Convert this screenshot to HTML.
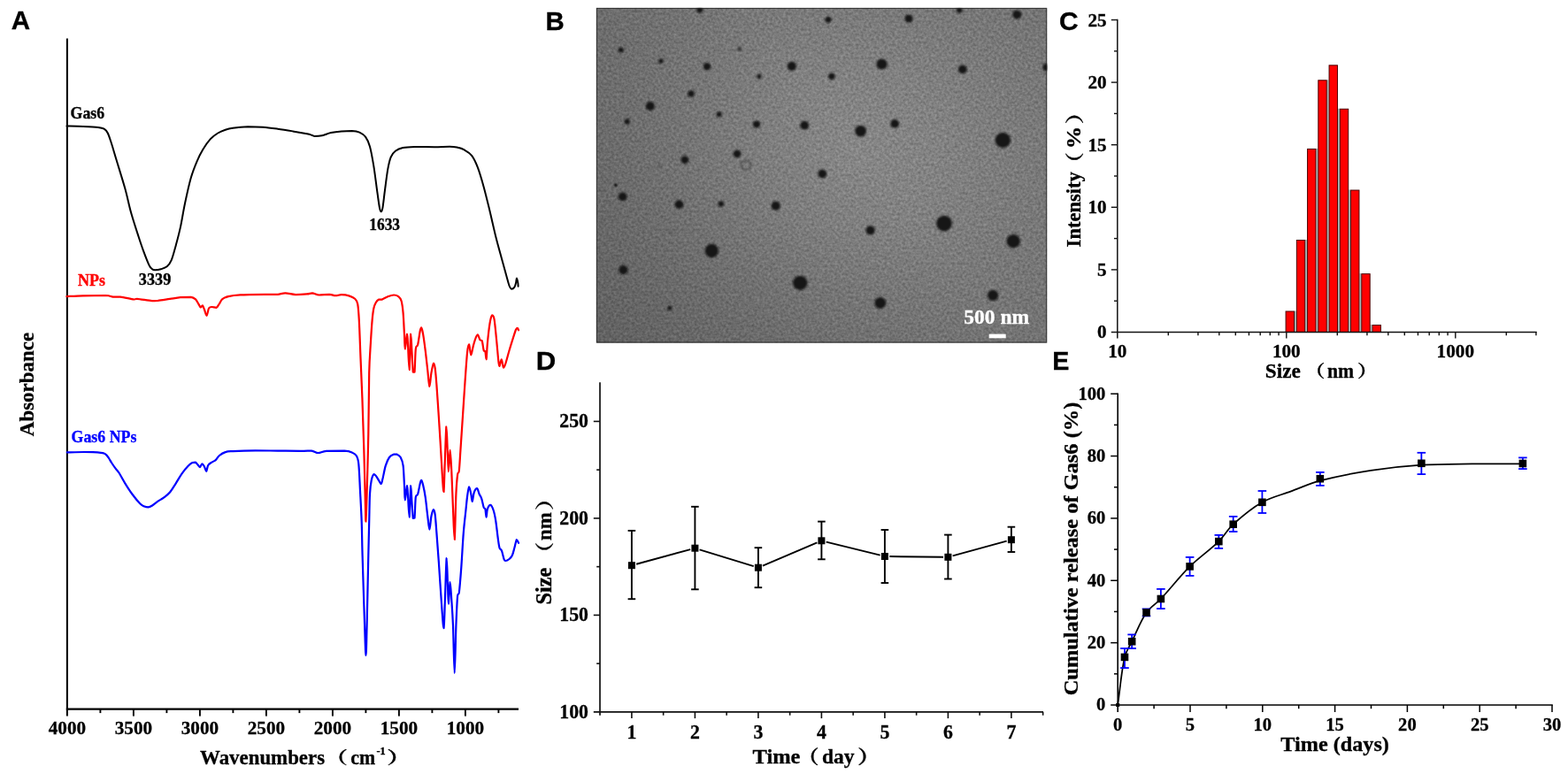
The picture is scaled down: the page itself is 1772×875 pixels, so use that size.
<!DOCTYPE html>
<html lang="en"><head><meta charset="utf-8"><title>Figure: Gas6 nanoparticle characterization</title>
<style>html,body{margin:0;padding:0;background:#fff;overflow:hidden}svg{display:block}text{white-space:pre}</style></head><body>
<svg width="1772" height="875" viewBox="0 0 1772 875">
<rect width="1772" height="875" fill="#fff"/>
<defs>
<radialGradient id="temg" cx="0" cy="0" r="1" gradientUnits="userSpaceOnUse" gradientTransform="translate(962 174) scale(400 330)">
<stop offset="0" stop-color="#878787"/>
<stop offset="0.25" stop-color="#828282"/>
<stop offset="0.5" stop-color="#7a7a7a"/>
<stop offset="0.65" stop-color="#767676"/>
<stop offset="0.8" stop-color="#737373"/>
<stop offset="1" stop-color="#717171"/>
</radialGradient>
<linearGradient id="temd" gradientUnits="userSpaceOnUse" x1="676" y1="385" x2="960" y2="150"><stop offset="0" stop-color="#000" stop-opacity="0.14"/><stop offset="1" stop-color="#000" stop-opacity="0"/></linearGradient>
<filter id="noise" x="0" y="0" width="100%" height="100%" color-interpolation-filters="sRGB">
<feTurbulence type="fractalNoise" baseFrequency="0.34" numOctaves="2" seed="7" result="t"/>
<feColorMatrix in="t" type="matrix" values="1 0 0 0 0 1 0 0 0 0 1 0 0 0 0 0 0 0 0 1" result="g"/>
<feComposite in="SourceGraphic" in2="g" operator="arithmetic" k1="0" k2="1" k3="0.25" k4="-0.125"/>
</filter>
<filter id="blur" x="0" y="0" width="1772" height="875" filterUnits="userSpaceOnUse"><feGaussianBlur stdDeviation="1.15"/></filter>
<clipPath id="temclip"><rect x="673.7" y="8.7" width="509.7" height="379"/></clipPath>
</defs>
<text transform="translate(12.76 33.3) scale(1.037 1.060)" font-family="'Liberation Sans',sans-serif" font-size="28.5" font-weight="bold" fill="#000" stroke="#000" stroke-width="0.3">A</text>
<text transform="translate(616.59 33.5) scale(1.033 1.060)" font-family="'Liberation Sans',sans-serif" font-size="28.5" font-weight="bold" fill="#000" stroke="#000" stroke-width="0.3">B</text>
<text transform="translate(1197.1 33.7) scale(1.050 1.060)" font-family="'Liberation Sans',sans-serif" font-size="28.5" font-weight="bold" fill="#000" stroke="#000" stroke-width="0.3">C</text>
<text transform="translate(605.77 417.9) scale(1.095 1.060)" font-family="'Liberation Sans',sans-serif" font-size="28.5" font-weight="bold" fill="#000" stroke="#000" stroke-width="0.3">D</text>
<text transform="translate(1189.14 417.9) scale(1.006 1.060)" font-family="'Liberation Sans',sans-serif" font-size="28.5" font-weight="bold" fill="#000" stroke="#000" stroke-width="0.3">E</text>
<g id="panelA">
<line x1="75.9" y1="43.5" x2="75.9" y2="809.6" stroke="#000" stroke-width="2.1"/>
<line x1="74.85" y1="801.6" x2="586" y2="801.6" stroke="#000" stroke-width="2.1"/>
<text transform="translate(75.9 830.3) scale(1.000 1.030)" font-family="'Liberation Serif','Noto Serif CJK SC',serif" font-size="21.2" font-weight="bold" text-anchor="middle" fill="#000" stroke="#000" stroke-width="0.3">4000</text>
<line x1="113.4" y1="801.6" x2="113.4" y2="806.1" stroke="#000" stroke-width="1.9"/>
<line x1="150.9" y1="801.6" x2="150.9" y2="809.6" stroke="#000" stroke-width="1.9"/>
<text transform="translate(150.9 830.3) scale(1.000 1.030)" font-family="'Liberation Serif','Noto Serif CJK SC',serif" font-size="21.2" font-weight="bold" text-anchor="middle" fill="#000" stroke="#000" stroke-width="0.3">3500</text>
<line x1="188.4" y1="801.6" x2="188.4" y2="806.1" stroke="#000" stroke-width="1.9"/>
<line x1="225.9" y1="801.6" x2="225.9" y2="809.6" stroke="#000" stroke-width="1.9"/>
<text transform="translate(225.9 830.3) scale(1.000 1.030)" font-family="'Liberation Serif','Noto Serif CJK SC',serif" font-size="21.2" font-weight="bold" text-anchor="middle" fill="#000" stroke="#000" stroke-width="0.3">3000</text>
<line x1="263.4" y1="801.6" x2="263.4" y2="806.1" stroke="#000" stroke-width="1.9"/>
<line x1="300.9" y1="801.6" x2="300.9" y2="809.6" stroke="#000" stroke-width="1.9"/>
<text transform="translate(300.9 830.3) scale(1.000 1.030)" font-family="'Liberation Serif','Noto Serif CJK SC',serif" font-size="21.2" font-weight="bold" text-anchor="middle" fill="#000" stroke="#000" stroke-width="0.3">2500</text>
<line x1="338.4" y1="801.6" x2="338.4" y2="806.1" stroke="#000" stroke-width="1.9"/>
<line x1="375.9" y1="801.6" x2="375.9" y2="809.6" stroke="#000" stroke-width="1.9"/>
<text transform="translate(375.9 830.3) scale(1.000 1.030)" font-family="'Liberation Serif','Noto Serif CJK SC',serif" font-size="21.2" font-weight="bold" text-anchor="middle" fill="#000" stroke="#000" stroke-width="0.3">2000</text>
<line x1="413.4" y1="801.6" x2="413.4" y2="806.1" stroke="#000" stroke-width="1.9"/>
<line x1="450.9" y1="801.6" x2="450.9" y2="809.6" stroke="#000" stroke-width="1.9"/>
<text transform="translate(450.9 830.3) scale(1.000 1.030)" font-family="'Liberation Serif','Noto Serif CJK SC',serif" font-size="21.2" font-weight="bold" text-anchor="middle" fill="#000" stroke="#000" stroke-width="0.3">1500</text>
<line x1="488.4" y1="801.6" x2="488.4" y2="806.1" stroke="#000" stroke-width="1.9"/>
<line x1="525.9" y1="801.6" x2="525.9" y2="809.6" stroke="#000" stroke-width="1.9"/>
<text transform="translate(525.9 830.3) scale(1.000 1.030)" font-family="'Liberation Serif','Noto Serif CJK SC',serif" font-size="21.2" font-weight="bold" text-anchor="middle" fill="#000" stroke="#000" stroke-width="0.3">1000</text>
<line x1="563.4" y1="801.6" x2="563.4" y2="806.1" stroke="#000" stroke-width="1.9"/>
<text transform="translate(226.07 863.8) scale(0.999 1.030)" font-family="'Liberation Serif','Noto Serif CJK SC',serif" font-size="22.9" font-weight="bold" fill="#000" stroke="#000" stroke-width="0.3">Wavenumbers</text>
<text transform="translate(366.96 864) scale(1.398 1.030)" font-family="'Liberation Serif','Noto Serif CJK SC',serif" font-size="18.6" font-weight="bold" fill="#000" stroke="#000" stroke-width="0.3">（</text>
<text transform="translate(396.35 863.8) scale(0.951 1.030)" font-family="'Liberation Serif','Noto Serif CJK SC',serif" font-size="22.9" font-weight="bold" fill="#000" stroke="#000" stroke-width="0.3">cm</text>
<text transform="translate(425.47 853.4) scale(1.067 1.030)" font-family="'Liberation Serif','Noto Serif CJK SC',serif" font-size="11.5" font-weight="bold" fill="#000" stroke="#000" stroke-width="0.3">-1</text>
<text transform="translate(436.9 864) scale(1.523 1.030)" font-family="'Liberation Serif','Noto Serif CJK SC',serif" font-size="18.6" font-weight="bold" fill="#000" stroke="#000" stroke-width="0.3">）</text>
<g transform="translate(38.1 0) rotate(-90)">
<text transform="translate(-493.13 0) scale(0.998 1.030)" font-family="'Liberation Serif','Noto Serif CJK SC',serif" font-size="23" font-weight="bold" fill="#000" stroke="#000" stroke-width="0.3">Absorbance</text>
</g>
<path d="M75.5 142.5C78.57 142.58 88.02 142.75 93.9 143C99.78 143.25 106.85 143.55 110.8 144C114.75 144.45 115.77 144.62 117.6 145.7C119.43 146.78 120.4 147.73 121.8 150.5C123.2 153.27 124.45 157.5 126 162.3C127.55 167.1 128.55 170.83 131.1 179.3C133.65 187.77 138.48 202.98 141.3 213.1C144.12 223.22 145.47 230.97 148 240C150.53 249.03 154.23 260.25 156.5 267.3C158.77 274.35 159.63 276.97 161.6 282.3C163.57 287.63 166.62 295.68 168.3 299.3C169.98 302.92 170.57 303 171.7 304C172.83 305 173.4 305.25 175.1 305.3C176.8 305.3 179.63 304.97 181.9 304.3C184.17 303.63 186.73 302.98 188.7 301.3C190.67 299.62 192.02 298.22 193.7 294.2C195.38 290.18 197.1 283.42 198.8 277.2C200.5 270.98 202.2 264.77 203.9 256.9C205.6 249.03 207.03 239.27 209 230C210.97 220.73 213.45 209.2 215.7 201.3C217.95 193.4 220.23 187.97 222.5 182.6C224.77 177.23 226.75 173.33 229.3 169.1C231.85 164.87 234.98 160.3 237.8 157.2C240.62 154.1 243.38 152.25 246.2 150.5C249.02 148.75 251.88 147.67 254.7 146.7C257.52 145.73 258.87 145.28 263.1 144.7C267.33 144.12 274.45 143.37 280.1 143.2C285.75 143.2 291.37 143.28 297 143.7C302.63 144.12 308.25 144.92 313.9 145.7C319.55 146.48 325.4 147.47 330.9 148.4C336.4 149.33 343.38 150.6 346.9 151.3C350.42 152 350.58 152.17 352 152.6C353.42 153.03 353.42 153.8 355.4 153.9C357.38 153.9 360.8 153.83 363.9 153.2C367 152.57 370.33 150.9 374 150.1C377.67 149.3 381.95 148.77 385.9 148.4C389.85 148.03 394.32 147.9 397.7 147.9C401.08 148.1 403.65 148.47 406.2 149.6C408.75 150.73 411.03 152.02 413 154.7C414.97 157.38 416.45 160.2 418 165.7C419.55 171.2 420.88 178.95 422.3 187.7C423.72 196.45 425.38 210.3 426.5 218.2C427.62 226.1 428.3 231.58 429 235.1C429.7 238.62 430.13 239.3 430.7 239.3C431.27 239.3 431.68 239.18 432.4 235.1C433.12 231.02 434.02 222.13 435 214.8C435.98 207.47 437.18 197.3 438.3 191.1C439.42 184.9 440.28 180.98 441.7 177.6C443.12 174.22 444.53 172.55 446.8 170.8C449.07 169.05 451.63 167.9 455.3 167.1C458.97 166.3 462.88 166.15 468.8 166C474.72 166 484.3 166.2 490.8 166.2C497.3 166.15 503.57 165.7 507.8 165.7C512.03 165.77 513.38 165.98 516.2 166.6C519.02 167.22 521.88 167.85 524.7 169.4C527.52 170.95 530.57 172.57 533.1 175.9C535.63 179.23 537.63 183.48 539.9 189.4C542.17 195.32 544.43 203.22 546.7 211.4C548.97 219.58 551.25 229.2 553.5 238.5C555.75 247.8 557.95 258.2 560.2 267.2C562.45 276.2 565.02 285.18 567 292.5C568.98 299.82 570.68 306.02 572.1 311.1C573.52 316.18 574.52 320.4 575.5 323C576.48 325.6 577.02 326.43 578 326.7C578.98 326.7 580.55 325.78 581.4 324.6C582.25 323.42 582.68 321.28 583.1 319.6C583.52 317.92 583.53 314.5 583.9 314.5C584.27 314.5 585.02 318.05 585.3 319.6C585.58 321.15 585.55 323.1 585.6 323.8" fill="none" stroke="#000" stroke-width="2.0" stroke-linejoin="round" stroke-linecap="round"/>
<path d="M75.5 335.1C78.57 334.97 86.6 334.48 93.9 334.3C101.2 334.12 113.67 334 119.3 334C124.93 334.22 124.92 335.33 127.7 335.6C130.48 335.6 132.05 335.6 136 335.6C139.95 336.08 148.23 338.13 151.4 338.5C154.57 338.5 151.62 337.8 155 337.8C158.38 338.08 167.78 339.85 171.7 340.2C175.62 340.2 175.12 340.2 178.5 339.9C181.88 339.52 187.77 338.52 192 337.9C196.23 337.28 199.95 336.55 203.9 336.2C207.85 335.85 212.88 335.8 215.7 335.8C218.52 336.13 219.38 336.95 220.8 338.2C222.22 339.45 223.2 341.75 224.2 343.3C225.2 344.85 226.03 347.17 226.8 347.5C227.57 347.5 228.1 345.3 228.8 345.3C229.5 345.72 230.22 348.08 231 350C231.78 351.92 232.65 356.8 233.5 356.8C234.35 356.52 235.12 349.93 236.1 348.3C237.08 347 238 347.08 239.4 347C240.8 347 243.08 347.8 244.5 347.8C245.92 347.18 246.77 344.9 247.9 343.3C249.03 341.7 249.6 339.57 251.3 338.2C253 336.83 254.72 335.9 258.1 335.1C261.48 334.3 263.7 333.78 271.6 333.4C279.5 333.02 298.43 332.9 305.5 332.8C312.57 332.8 311.18 332.8 314 332.8C316.82 332.57 319.03 331.4 322.4 331.4C325.77 331.45 330.12 332.93 334.2 333.1C338.28 333.1 343.78 332.68 346.9 332.4C350.02 332.12 350.63 331.4 352.9 331.4C355.17 331.58 357.27 333.25 360.5 333.5C363.73 333.5 369.2 332.9 372.3 332.9C375.4 333.02 376.83 334.15 379.1 334.2C381.37 334.2 383.37 333.2 385.9 333.2C388.43 333.23 391.77 333.63 394.3 334.4C396.83 335.17 399.45 336.25 401.1 337.8C402.75 339.35 403.42 339.62 404.2 343.7C404.98 347.78 405.25 352.15 405.8 362.3C406.35 372.45 406.9 389.98 407.5 404.6C408.1 419.22 408.77 432.82 409.4 450C410.03 467.18 410.7 486.8 411.3 507.7C411.9 528.6 412.65 561.75 413 575.4C413.35 589.05 413.13 589.6 413.4 589.6C413.67 586.78 414.12 574.97 414.6 558.5C415.08 542.03 415.87 513.62 416.3 490.8C416.73 467.98 416.77 438.78 417.2 421.6C417.63 404.42 418.33 397.58 418.9 387.7C419.47 377.82 420.03 368.78 420.6 362.3C421.17 355.82 421.6 352.18 422.3 348.8C423 345.42 423.82 343.7 424.8 342C425.78 340.3 427.07 339.17 428.2 338.6C429.33 338.6 429.92 338.6 431.6 338.6C433.28 338.03 436.05 336.05 438.3 335.2C440.55 334.35 443.12 333.5 445.1 333.5C447.08 333.5 448.78 334.07 450.2 335.2C451.62 336.33 452.7 337.18 453.6 340.3C454.5 343.42 455.03 347.4 455.6 353.9C456.17 360.4 456.63 372.53 457 379.3C457.37 386.07 457.3 394.5 457.8 394.5C458.3 394.22 459.48 378.73 460 377.6C460.52 377.6 460.47 380.93 460.9 387.7C461.33 394.47 462.05 418.2 462.6 418.2C463.15 416.52 463.73 381.27 464.2 377.6C464.67 377.6 464.97 389.02 465.4 396.2C465.83 403.38 466.28 416.62 466.8 420.7C467.32 420.7 468 420.7 468.5 420.7C469 416.33 469.18 399.72 469.8 394.5C470.42 389.4 471.38 392.78 472.2 389.4C473.02 386.02 474.05 377.37 474.7 374.2C475.35 371.03 475.53 370.4 476.1 370.4C476.67 370.97 477.33 373.3 478.1 377.6C478.87 381.9 479.85 389.43 480.7 396.2C481.55 402.97 482.42 411.43 483.2 418.2C483.98 424.97 484.7 436.23 485.4 436.8C486.1 436.8 486.63 425.97 487.4 421.6C488.17 417.23 489.28 411.45 490 410.6C490.72 410.6 491.13 412.42 491.7 416.5C492.27 420.58 492.77 426.85 493.4 435.1C494.03 443.35 494.8 455.3 495.5 466C496.2 476.7 496.83 486.7 497.6 499.3C498.37 511.9 499.45 532.15 500.1 541.6C500.75 551.05 501.07 556 501.5 556C501.93 553.17 502.22 536.88 502.7 524.6C503.18 512.32 503.9 485.12 504.4 482.3C504.9 482.3 505.28 499.23 505.7 507.7C506.12 516.17 506.42 532.95 506.9 533.1C507.38 533.1 508.03 508.6 508.6 508.6C509.17 508.6 509.73 521.97 510.3 533.1C510.87 544.23 511.43 562.58 512 575.4C512.57 588.22 513.13 610 513.7 610C514.27 607.18 514.83 570.75 515.4 558.5C515.97 546.25 516.53 540.87 517.1 536.5C517.67 532.3 518.23 536.5 518.8 532.3C519.37 527.5 519.8 518.08 520.5 507.7C521.2 497.32 522.17 482.62 523 470C523.83 457.38 524.65 444.02 525.5 432C526.35 419.98 527.33 405 528.1 397.9C528.87 390.8 529.4 389.4 530.1 389.4C530.8 389.97 531.52 401.02 532.3 401.3C533.08 401.3 533.95 394.22 534.8 391.1C535.65 387.98 536.55 384.72 537.4 382.6C538.25 380.48 539.05 378.4 539.9 378.4C540.75 378.68 541.7 383.17 542.5 384.3C543.3 385.2 544 384.3 544.7 385.2C545.4 387.18 546.08 394.15 546.7 396.2C547.32 397.5 547.92 396.2 548.4 397.5C548.88 399.18 549.18 406.3 549.6 406.3C550.02 404.67 550.25 394.47 550.9 387.7C551.55 380.93 552.65 370.92 553.5 365.7C554.35 360.48 555.17 357.25 556 356.4C556.83 356.4 557.65 356.4 558.5 360.6C559.35 365.25 560.3 376.4 561.1 384.3C561.9 392.2 562.73 403.05 563.3 408C563.87 412.95 563.93 414 564.5 414C565.07 413.72 565.95 406.3 566.7 406.3C567.45 406.57 568.25 414.75 569 415.6C569.75 415.6 570.12 414.63 571.2 411.4C572.28 408.17 574.08 401 575.5 396.2C576.92 391.4 578.43 386.55 579.7 382.6C580.97 378.65 582.25 374.47 583.1 372.5C583.95 370.8 584.32 370.8 584.8 370.8C585.28 370.93 585.8 372.88 586 373.3" fill="none" stroke="#f00" stroke-width="2.2" stroke-linejoin="round" stroke-linecap="round"/>
<path d="M75.9 511.4C79.08 511.33 90.15 511.03 95 511C99.85 511 101.83 511.07 105 511.2C108.17 511.33 111.92 511.57 114 511.8C116.08 512.03 116.42 512.13 117.5 512.6C118.58 513.07 119.58 513.7 120.5 514.6C121.42 515.5 122.08 516.6 123 518C123.92 519.4 124.73 521.05 126 523C127.27 524.95 129.18 527.78 130.6 529.7C132.02 531.62 132.72 531.73 134.5 534.5C136.28 537.27 138.77 542.22 141.3 546.3C143.83 550.38 146.88 555.18 149.7 559C152.52 562.82 155.93 566.93 158.2 569.2C160.47 571.47 161.75 571.9 163.3 572.6C164.85 573.3 166.1 573.4 167.5 573.4C168.9 573.25 169.87 572.82 171.7 571.7C173.53 570.58 176.23 568.25 178.5 566.7C180.77 565.15 183.05 564.1 185.3 562.4C187.55 560.7 189.75 559.18 192 556.5C194.25 553.82 196.53 549.83 198.8 546.3C201.07 542.77 203.33 538.53 205.6 535.3C207.87 532.07 210.43 528.95 212.4 526.9C214.37 524.85 216 523.72 217.4 523C218.8 522.6 219.8 522.6 220.8 522.6C221.8 522.97 222.55 524.28 223.4 525.2C224.25 526.12 225.07 528.1 225.9 528.1C226.73 527.95 227.55 524.37 228.4 524.3C229.25 524.3 230.2 526.28 231 527.7C231.8 529.12 232.5 532.8 233.2 532.8C233.9 532.52 234.17 527.7 235.2 526C236.23 524.3 237.98 523.58 239.4 522.6C240.82 521.62 242.28 521.37 243.7 520.1C245.12 518.83 246.07 516.5 247.9 515C249.73 513.5 252.17 511.92 254.7 511.1C257.23 510.28 257.47 510.4 263.1 510.1C268.73 509.8 280.03 509.38 288.5 509.3C296.97 509.3 305.43 509.5 313.9 509.6C322.37 509.7 332.95 509.9 339.3 509.9C345.65 509.9 348.62 509.6 352 509.6C355.38 509.95 356.78 511.95 359.6 512C362.42 512 363.95 510.28 368.9 509.9C373.85 509.7 384.5 509.7 389.3 509.7C394.1 509.95 395.45 510.47 397.7 511.4C399.95 512.33 401.53 513.1 402.8 515.3C404.07 517.5 404.6 517.98 405.3 524.6C406 531.22 406.43 544.1 407 555C407.57 565.9 408.27 577.88 408.7 590C409.13 602.12 409.03 608.15 409.6 627.7C410.17 647.25 411.45 688.42 412.1 707.3C412.75 726.18 413.08 741 413.5 741C413.92 741 414.13 726.18 414.6 707.3C415.07 688.42 415.87 647.25 416.3 627.7C416.73 608.15 416.92 601.53 417.2 590C417.48 578.47 417.58 566.28 418 558.5C418.42 550.72 418.98 547.02 419.7 543.3C420.42 539.58 421.45 537.1 422.3 536.2C423.15 536.2 423.82 536.72 424.8 537.9C425.78 539.08 427.22 541.78 428.2 543.3C429.18 544.82 430 547 430.7 547C431.4 546.72 431.55 545.05 432.4 541.6C433.25 538.15 434.53 530.4 435.8 526.3C437.07 522.2 438.45 519.12 440 517C441.55 514.88 443.68 514.17 445.1 513.6C446.52 513.6 447.23 513.6 448.5 513.6C449.77 514.17 451.52 514.88 452.7 517C453.88 519.12 454.88 520.8 455.6 526.3C456.32 531.8 456.63 543.5 457 550C457.37 556.5 457.3 565.3 457.8 565.3C458.3 565.17 459.48 550.33 460 549.2C460.52 549.2 460.47 552.58 460.9 558.5C461.33 564.42 462.05 584.7 462.6 584.7C463.15 583.15 463.73 552.15 464.2 549.2C464.67 549.2 464.97 560.88 465.4 567C465.83 573.12 466.28 582.8 466.8 585.9C467.32 585.9 468 585.9 468.5 585.6C469 581.6 469.18 566.42 469.8 561.9C470.42 558.5 471.38 561.03 472.2 558.5C473.02 555.97 474.05 549.32 474.7 546.7C475.35 544.08 475.53 542.8 476.1 542.8C476.67 543.07 477.33 545.12 478.1 548.3C478.87 551.48 479.85 556.12 480.7 561.9C481.55 567.68 482.42 576.88 483.2 583C483.98 589.12 484.7 598.48 485.4 598.6C486.1 598.6 486.63 587.45 487.4 583.7C488.17 579.95 489.28 576.38 490 576.1C490.72 576.1 491.13 577.63 491.7 582C492.27 586.37 492.7 593.27 493.4 602.3C494.1 611.33 494.92 622.08 495.9 636.2C496.88 650.32 498.37 674.68 499.3 687C500.23 699.32 500.88 710.1 501.5 710.1C502.12 708.1 502.47 688.17 503 675C503.53 661.83 504.2 633.33 504.7 631.1C505.2 631.1 505.63 653 506 661.6C506.37 670.2 506.47 682.7 506.9 682.7C507.33 682.13 508.03 658.9 508.6 658.2C509.17 658.2 509.73 670.32 510.3 678.5C510.87 686.68 511.43 693.55 512 707.3C512.57 721.05 513.13 761 513.7 761C514.27 761 514.83 721.9 515.4 707.3C515.97 692.7 516.53 679.62 517.1 673.4C517.67 670 518.1 673.4 518.8 670C519.5 664.65 520.47 652.58 521.3 641.3C522.13 630.02 522.95 613.02 523.8 602.3C524.65 591.58 525.68 583.88 526.4 577C527.12 570.12 527.48 565.43 528.1 561C528.72 556.57 529.4 550.82 530.1 550.4C530.8 550.4 531.7 555.73 532.3 558.5C532.9 561.27 533.13 567 533.7 567C534.27 566.72 534.8 559.28 535.7 556.8C536.6 554.32 538.12 552.1 539.1 552.1C540.08 552.38 540.75 556.58 541.6 558.5C542.45 560.42 543.35 561.07 544.2 563.6C545.05 566.13 546 571.73 546.7 573.7C547.4 575.4 547.92 573.7 548.4 575.4C548.88 577.23 549.18 584.7 549.6 584.7C550.02 584.7 550.12 577.72 550.9 575.4C551.68 573.08 553.17 570.8 554.3 570.8C555.43 571.07 556.72 574.05 557.7 577C558.68 579.95 559.35 583.15 560.2 588.5C561.05 593.85 562.08 603.97 562.8 609.1C563.52 614.23 563.8 617.05 564.5 619.3C565.2 621.55 566.17 620.48 567 622.6C567.83 624.72 568.8 630.1 569.5 632C570.2 633.9 570.2 634 571.2 634C572.2 634 574.22 633.05 575.5 632C576.78 630.95 577.92 629.82 578.9 627.7C579.88 625.58 580.57 622.25 581.4 619.3C582.23 616.35 583.13 610.92 583.9 610C584.67 610 585.65 613.17 586 613.8" fill="none" stroke="#00f" stroke-width="2.2" stroke-linejoin="round" stroke-linecap="round"/>
<text transform="translate(79.6 133.7) scale(1.047 1.120)" font-family="'Liberation Serif','Noto Serif CJK SC',serif" font-size="17" font-weight="bold" fill="#000" stroke="#000" stroke-width="0.3">Gas6</text>
<text transform="translate(88.03 322.6) scale(1.058 1.120)" font-family="'Liberation Serif','Noto Serif CJK SC',serif" font-size="17" font-weight="bold" fill="#f00" stroke="#f00" stroke-width="0.3">NPs</text>
<text transform="translate(80.5 499.5) scale(1.051 1.120)" font-family="'Liberation Serif','Noto Serif CJK SC',serif" font-size="17" font-weight="bold" fill="#00f" stroke="#00f" stroke-width="0.3">Gas6 NPs</text>
<text transform="translate(156.86 322.3) scale(1.073 1.120)" font-family="'Liberation Serif','Noto Serif CJK SC',serif" font-size="17" font-weight="bold" fill="#000" stroke="#000" stroke-width="0.3">3339</text>
<text transform="translate(417.2 259.6) scale(1.027 1.120)" font-family="'Liberation Serif','Noto Serif CJK SC',serif" font-size="17" font-weight="bold" fill="#000" stroke="#000" stroke-width="0.3">1633</text>
</g>
<g id="panelB">
<g clip-path="url(#temclip)">
<rect x="673.7" y="8.7" width="509.7" height="379" fill="url(#temg)" filter="url(#noise)"/>
<rect x="673.7" y="8.7" width="509.7" height="379" fill="url(#temd)"/>
<g filter="url(#blur)">
<ellipse cx="790.8" cy="11.2" rx="3.47" ry="3.47" fill="#141414"/>
<ellipse cx="701.8" cy="56.5" rx="3.06" ry="3.06" fill="#141414"/>
<ellipse cx="746.9" cy="69" rx="2.75" ry="2.75" fill="#141414"/>
<ellipse cx="835.6" cy="55.3" rx="2.55" ry="2.55" fill="#3a3a3a"/>
<ellipse cx="799" cy="75.2" rx="4.08" ry="4.08" fill="#141414"/>
<ellipse cx="858" cy="86.4" rx="2.55" ry="2.55" fill="#141414"/>
<ellipse cx="894.8" cy="74.8" rx="5.1" ry="5.1" fill="#141414"/>
<ellipse cx="781" cy="106" rx="3.77" ry="3.77" fill="#141414"/>
<ellipse cx="734.8" cy="120" rx="5.1" ry="5.1" fill="#141414"/>
<ellipse cx="708.7" cy="137.4" rx="3.06" ry="3.06" fill="#141414"/>
<ellipse cx="812.7" cy="129.2" rx="3.06" ry="3.06" fill="#141414"/>
<ellipse cx="855" cy="140.6" rx="4.08" ry="4.08" fill="#141414"/>
<ellipse cx="909.2" cy="141.7" rx="4.9" ry="4.9" fill="#141414"/>
<ellipse cx="833" cy="173.8" rx="4.39" ry="4.39" fill="#141414"/>
<ellipse cx="773.9" cy="180.6" rx="4.39" ry="4.39" fill="#141414"/>
<ellipse cx="745" cy="187.5" rx="1.43" ry="1.43" fill="#444"/>
<ellipse cx="936" cy="22.2" rx="3.57" ry="3.57" fill="#141414"/>
<ellipse cx="1027" cy="21" rx="4.59" ry="4.59" fill="#141414"/>
<ellipse cx="1084.2" cy="11.4" rx="3.26" ry="3.26" fill="#141414"/>
<ellipse cx="1149.3" cy="16.5" rx="5.1" ry="5.1" fill="#141414"/>
<ellipse cx="996.6" cy="72.5" rx="6.12" ry="6.12" fill="#141414"/>
<ellipse cx="939.9" cy="86.2" rx="3.77" ry="3.77" fill="#141414"/>
<ellipse cx="1087.8" cy="78.4" rx="4.9" ry="4.9" fill="#141414"/>
<ellipse cx="1182.3" cy="76.1" rx="4.08" ry="4.08" fill="#141414"/>
<ellipse cx="1011.2" cy="139.9" rx="4.9" ry="4.9" fill="#141414"/>
<ellipse cx="972.6" cy="148.1" rx="6.43" ry="6.43" fill="#141414"/>
<ellipse cx="1133.3" cy="158.4" rx="8.67" ry="8.67" fill="#141414"/>
<ellipse cx="929.3" cy="196.5" rx="4.9" ry="4.9" fill="#141414"/>
<ellipse cx="695.9" cy="209.2" rx="1.53" ry="1.53" fill="#141414"/>
<ellipse cx="703.7" cy="222.4" rx="4.9" ry="4.9" fill="#141414"/>
<ellipse cx="767.5" cy="231.1" rx="4.9" ry="4.9" fill="#141414"/>
<ellipse cx="814.8" cy="230.4" rx="3.26" ry="3.26" fill="#141414"/>
<ellipse cx="876.7" cy="232.7" rx="5.1" ry="5.1" fill="#141414"/>
<ellipse cx="757.6" cy="263.6" rx="1.43" ry="1.43" fill="#444"/>
<ellipse cx="804.3" cy="283.5" rx="7.65" ry="7.65" fill="#141414"/>
<ellipse cx="704.4" cy="305.2" rx="5.1" ry="5.1" fill="#141414"/>
<ellipse cx="904.2" cy="319.8" rx="8.16" ry="8.16" fill="#141414"/>
<ellipse cx="756.7" cy="348.2" rx="2.55" ry="2.55" fill="#141414"/>
<ellipse cx="983.6" cy="260.4" rx="5.1" ry="5.1" fill="#141414"/>
<ellipse cx="1067" cy="252.6" rx="8.87" ry="8.87" fill="#141414"/>
<ellipse cx="1145.2" cy="272.7" rx="7.65" ry="7.65" fill="#141414"/>
<ellipse cx="994.8" cy="342.5" rx="6.43" ry="6.43" fill="#141414"/>
<ellipse cx="1122.1" cy="333.8" rx="6.12" ry="6.12" fill="#141414"/>
<circle cx="842.9" cy="186.3" r="5.5" fill="none" stroke="#383838" stroke-width="1.2"/>
<circle cx="695.9" cy="209.2" r="1.6" fill="#000"/>
</g>
<rect x="674.35" y="9.35" width="508.4" height="377.7" fill="none" stroke="#222" stroke-width="1.3" opacity="0.75"/>
</g>
<text transform="translate(1089.36 366.3) scale(1.119 1.130)" font-family="'Liberation Serif','Noto Serif CJK SC',serif" font-size="21" font-weight="bold" fill="#fff" stroke="#fff" stroke-width="0.3">500 nm</text>
<rect x="1117.7" y="377.6" width="19" height="4.7" fill="#fff"/>
</g>
<g id="panelC">
<rect x="1463" y="351.5" width="1.84" height="24" fill="#a3b7b7"/>
<rect x="1475.24" y="271.01" width="1.84" height="104.49" fill="#a3b7b7"/>
<rect x="1487.48" y="167.94" width="1.84" height="207.56" fill="#a3b7b7"/>
<rect x="1499.72" y="90.28" width="1.84" height="285.22" fill="#a3b7b7"/>
<rect x="1511.96" y="122.75" width="1.84" height="252.75" fill="#a3b7b7"/>
<rect x="1524.2" y="214.53" width="1.84" height="160.97" fill="#a3b7b7"/>
<rect x="1536.44" y="309.14" width="1.84" height="66.36" fill="#a3b7b7"/>
<rect x="1548.68" y="367.03" width="1.84" height="8.47" fill="#a3b7b7"/>
<rect x="1453.1" y="352" width="9.4" height="23.5" fill="#ff0000" stroke="#4a0000" stroke-width="1.0"/>
<rect x="1465.34" y="271.51" width="9.4" height="103.99" fill="#ff0000" stroke="#4a0000" stroke-width="1.0"/>
<rect x="1477.58" y="168.44" width="9.4" height="207.06" fill="#ff0000" stroke="#4a0000" stroke-width="1.0"/>
<rect x="1489.82" y="90.78" width="9.4" height="284.72" fill="#ff0000" stroke="#4a0000" stroke-width="1.0"/>
<rect x="1502.06" y="73.83" width="9.4" height="301.67" fill="#ff0000" stroke="#4a0000" stroke-width="1.0"/>
<rect x="1514.3" y="123.25" width="9.4" height="252.25" fill="#ff0000" stroke="#4a0000" stroke-width="1.0"/>
<rect x="1526.54" y="215.03" width="9.4" height="160.47" fill="#ff0000" stroke="#4a0000" stroke-width="1.0"/>
<rect x="1538.78" y="309.64" width="9.4" height="65.86" fill="#ff0000" stroke="#4a0000" stroke-width="1.0"/>
<rect x="1551.02" y="367.53" width="9.4" height="7.97" fill="#ff0000" stroke="#4a0000" stroke-width="1.0"/>
<line x1="1262.8" y1="21.75" x2="1262.8" y2="382.5" stroke="#111" stroke-width="1.5"/>
<line x1="1255.8" y1="375.5" x2="1736.68" y2="375.5" stroke="#111" stroke-width="1.5"/>
<text transform="translate(1250.6 382.4) scale(1.000 1.030)" font-family="'Liberation Serif','Noto Serif CJK SC',serif" font-size="21.2" font-weight="bold" text-anchor="end" fill="#000" stroke="#000" stroke-width="0.3">0</text>
<line x1="1259" y1="340.2" x2="1262.8" y2="340.2" stroke="#111" stroke-width="1.4"/>
<line x1="1255.8" y1="304.9" x2="1262.8" y2="304.9" stroke="#111" stroke-width="1.4"/>
<text transform="translate(1250.6 311.8) scale(1.000 1.030)" font-family="'Liberation Serif','Noto Serif CJK SC',serif" font-size="21.2" font-weight="bold" text-anchor="end" fill="#000" stroke="#000" stroke-width="0.3">5</text>
<line x1="1259" y1="269.6" x2="1262.8" y2="269.6" stroke="#111" stroke-width="1.4"/>
<line x1="1255.8" y1="234.3" x2="1262.8" y2="234.3" stroke="#111" stroke-width="1.4"/>
<text transform="translate(1250.6 241.2) scale(1.000 1.030)" font-family="'Liberation Serif','Noto Serif CJK SC',serif" font-size="21.2" font-weight="bold" text-anchor="end" fill="#000" stroke="#000" stroke-width="0.3">10</text>
<line x1="1259" y1="199" x2="1262.8" y2="199" stroke="#111" stroke-width="1.4"/>
<line x1="1255.8" y1="163.7" x2="1262.8" y2="163.7" stroke="#111" stroke-width="1.4"/>
<text transform="translate(1250.6 170.6) scale(1.000 1.030)" font-family="'Liberation Serif','Noto Serif CJK SC',serif" font-size="21.2" font-weight="bold" text-anchor="end" fill="#000" stroke="#000" stroke-width="0.3">15</text>
<line x1="1259" y1="128.4" x2="1262.8" y2="128.4" stroke="#111" stroke-width="1.4"/>
<line x1="1255.8" y1="93.1" x2="1262.8" y2="93.1" stroke="#111" stroke-width="1.4"/>
<text transform="translate(1250.6 100) scale(1.000 1.030)" font-family="'Liberation Serif','Noto Serif CJK SC',serif" font-size="21.2" font-weight="bold" text-anchor="end" fill="#000" stroke="#000" stroke-width="0.3">20</text>
<line x1="1259" y1="57.8" x2="1262.8" y2="57.8" stroke="#111" stroke-width="1.4"/>
<line x1="1255.8" y1="22.5" x2="1262.8" y2="22.5" stroke="#111" stroke-width="1.4"/>
<text transform="translate(1250.6 29.9) scale(1.000 1.030)" font-family="'Liberation Serif','Noto Serif CJK SC',serif" font-size="21.2" font-weight="bold" text-anchor="end" fill="#000" stroke="#000" stroke-width="0.3">25</text>
<line x1="1320.3" y1="375.5" x2="1320.3" y2="379.3" stroke="#111" stroke-width="1.4"/>
<line x1="1353.93" y1="375.5" x2="1353.93" y2="379.3" stroke="#111" stroke-width="1.4"/>
<line x1="1377.79" y1="375.5" x2="1377.79" y2="379.3" stroke="#111" stroke-width="1.4"/>
<line x1="1396.3" y1="375.5" x2="1396.3" y2="379.3" stroke="#111" stroke-width="1.4"/>
<line x1="1411.43" y1="375.5" x2="1411.43" y2="379.3" stroke="#111" stroke-width="1.4"/>
<line x1="1424.21" y1="375.5" x2="1424.21" y2="379.3" stroke="#111" stroke-width="1.4"/>
<line x1="1435.29" y1="375.5" x2="1435.29" y2="379.3" stroke="#111" stroke-width="1.4"/>
<line x1="1445.06" y1="375.5" x2="1445.06" y2="379.3" stroke="#111" stroke-width="1.4"/>
<line x1="1453.8" y1="375.5" x2="1453.8" y2="382.5" stroke="#111" stroke-width="1.4"/>
<line x1="1511.3" y1="375.5" x2="1511.3" y2="379.3" stroke="#111" stroke-width="1.4"/>
<line x1="1544.93" y1="375.5" x2="1544.93" y2="379.3" stroke="#111" stroke-width="1.4"/>
<line x1="1568.79" y1="375.5" x2="1568.79" y2="379.3" stroke="#111" stroke-width="1.4"/>
<line x1="1587.3" y1="375.5" x2="1587.3" y2="379.3" stroke="#111" stroke-width="1.4"/>
<line x1="1602.43" y1="375.5" x2="1602.43" y2="379.3" stroke="#111" stroke-width="1.4"/>
<line x1="1615.21" y1="375.5" x2="1615.21" y2="379.3" stroke="#111" stroke-width="1.4"/>
<line x1="1626.29" y1="375.5" x2="1626.29" y2="379.3" stroke="#111" stroke-width="1.4"/>
<line x1="1636.06" y1="375.5" x2="1636.06" y2="379.3" stroke="#111" stroke-width="1.4"/>
<line x1="1644.8" y1="375.5" x2="1644.8" y2="382.5" stroke="#111" stroke-width="1.4"/>
<line x1="1702.3" y1="375.5" x2="1702.3" y2="379.3" stroke="#111" stroke-width="1.4"/>
<line x1="1735.93" y1="375.5" x2="1735.93" y2="379.3" stroke="#111" stroke-width="1.4"/>
<text transform="translate(1262.8 403.8) scale(1.000 1.030)" font-family="'Liberation Serif','Noto Serif CJK SC',serif" font-size="21.2" font-weight="bold" text-anchor="middle" fill="#000" stroke="#000" stroke-width="0.3">10</text>
<text transform="translate(1453.8 403.8) scale(1.000 1.030)" font-family="'Liberation Serif','Noto Serif CJK SC',serif" font-size="21.2" font-weight="bold" text-anchor="middle" fill="#000" stroke="#000" stroke-width="0.3">100</text>
<text transform="translate(1644.8 403.8) scale(1.000 1.030)" font-family="'Liberation Serif','Noto Serif CJK SC',serif" font-size="21.2" font-weight="bold" text-anchor="middle" fill="#000" stroke="#000" stroke-width="0.3">1000</text>
<text transform="translate(1429.84 426.7) scale(1.012 1.030)" font-family="'Liberation Serif','Noto Serif CJK SC',serif" font-size="23" font-weight="bold" fill="#000" stroke="#000" stroke-width="0.3">Size</text>
<text transform="translate(1474.91 426.9) scale(1.214 1.030)" font-family="'Liberation Serif','Noto Serif CJK SC',serif" font-size="18.4" font-weight="bold" fill="#000" stroke="#000" stroke-width="0.3">（</text>
<text transform="translate(1499.96 426.7) scale(0.944 1.030)" font-family="'Liberation Serif','Noto Serif CJK SC',serif" font-size="23" font-weight="bold" fill="#000" stroke="#000" stroke-width="0.3">nm</text>
<text transform="translate(1534.04 426.9) scale(1.232 1.030)" font-family="'Liberation Serif','Noto Serif CJK SC',serif" font-size="18.4" font-weight="bold" fill="#000" stroke="#000" stroke-width="0.3">）</text>
<g transform="translate(1221.4 0) rotate(-90)">
<text transform="translate(-279.38 0) scale(0.993 1.030)" font-family="'Liberation Serif','Noto Serif CJK SC',serif" font-size="22.7" font-weight="bold" fill="#000" stroke="#000" stroke-width="0.3">Intensity</text>
<text transform="translate(-196.36 0.45) scale(1.182 1.030)" font-family="'Liberation Serif','Noto Serif CJK SC',serif" font-size="20.3" font-weight="bold" fill="#000" stroke="#000" stroke-width="0.3">（</text>
<text transform="translate(-168.14 0) scale(1.120 1.030)" font-family="'Liberation Serif','Noto Serif CJK SC',serif" font-size="22.7" font-weight="bold" fill="#000" stroke="#000" stroke-width="0.3">%</text>
<text transform="translate(-140.44 0.45) scale(1.346 1.030)" font-family="'Liberation Serif','Noto Serif CJK SC',serif" font-size="20.3" font-weight="bold" fill="#000" stroke="#000" stroke-width="0.3">）</text>
</g>
</g>
<g id="panelD">
<line x1="678" y1="432.3" x2="678" y2="808.7" stroke="#111" stroke-width="1.7"/>
<line x1="670.8" y1="804.9" x2="1179" y2="804.9" stroke="#111" stroke-width="1.7"/>
<text transform="translate(665 811.8) scale(1.000 1.030)" font-family="'Liberation Serif','Noto Serif CJK SC',serif" font-size="21.8" font-weight="bold" text-anchor="end" fill="#000" stroke="#000" stroke-width="0.3">100</text>
<line x1="674.2" y1="750.15" x2="678" y2="750.15" stroke="#111" stroke-width="1.6"/>
<line x1="670.8" y1="695.4" x2="678" y2="695.4" stroke="#111" stroke-width="1.6"/>
<text transform="translate(665 702.3) scale(1.000 1.030)" font-family="'Liberation Serif','Noto Serif CJK SC',serif" font-size="21.8" font-weight="bold" text-anchor="end" fill="#000" stroke="#000" stroke-width="0.3">150</text>
<line x1="674.2" y1="640.65" x2="678" y2="640.65" stroke="#111" stroke-width="1.6"/>
<line x1="670.8" y1="585.9" x2="678" y2="585.9" stroke="#111" stroke-width="1.6"/>
<text transform="translate(665 592.8) scale(1.000 1.030)" font-family="'Liberation Serif','Noto Serif CJK SC',serif" font-size="21.8" font-weight="bold" text-anchor="end" fill="#000" stroke="#000" stroke-width="0.3">200</text>
<line x1="674.2" y1="531.15" x2="678" y2="531.15" stroke="#111" stroke-width="1.6"/>
<line x1="670.8" y1="476.4" x2="678" y2="476.4" stroke="#111" stroke-width="1.6"/>
<text transform="translate(665 483.3) scale(1.000 1.030)" font-family="'Liberation Serif','Noto Serif CJK SC',serif" font-size="21.8" font-weight="bold" text-anchor="end" fill="#000" stroke="#000" stroke-width="0.3">250</text>
<line x1="713.9" y1="804.9" x2="713.9" y2="812.1" stroke="#111" stroke-width="1.6"/>
<text transform="translate(713.9 834.8) scale(1.000 1.030)" font-family="'Liberation Serif','Noto Serif CJK SC',serif" font-size="21.8" font-weight="bold" text-anchor="middle" fill="#000" stroke="#000" stroke-width="0.3">1</text>
<line x1="749.65" y1="804.9" x2="749.65" y2="808.7" stroke="#111" stroke-width="1.6"/>
<line x1="785.4" y1="804.9" x2="785.4" y2="812.1" stroke="#111" stroke-width="1.6"/>
<text transform="translate(785.4 834.8) scale(1.000 1.030)" font-family="'Liberation Serif','Noto Serif CJK SC',serif" font-size="21.8" font-weight="bold" text-anchor="middle" fill="#000" stroke="#000" stroke-width="0.3">2</text>
<line x1="821.15" y1="804.9" x2="821.15" y2="808.7" stroke="#111" stroke-width="1.6"/>
<line x1="856.9" y1="804.9" x2="856.9" y2="812.1" stroke="#111" stroke-width="1.6"/>
<text transform="translate(856.9 834.8) scale(1.000 1.030)" font-family="'Liberation Serif','Noto Serif CJK SC',serif" font-size="21.8" font-weight="bold" text-anchor="middle" fill="#000" stroke="#000" stroke-width="0.3">3</text>
<line x1="892.65" y1="804.9" x2="892.65" y2="808.7" stroke="#111" stroke-width="1.6"/>
<line x1="928.4" y1="804.9" x2="928.4" y2="812.1" stroke="#111" stroke-width="1.6"/>
<text transform="translate(928.4 834.8) scale(1.000 1.030)" font-family="'Liberation Serif','Noto Serif CJK SC',serif" font-size="21.8" font-weight="bold" text-anchor="middle" fill="#000" stroke="#000" stroke-width="0.3">4</text>
<line x1="964.15" y1="804.9" x2="964.15" y2="808.7" stroke="#111" stroke-width="1.6"/>
<line x1="999.9" y1="804.9" x2="999.9" y2="812.1" stroke="#111" stroke-width="1.6"/>
<text transform="translate(999.9 834.8) scale(1.000 1.030)" font-family="'Liberation Serif','Noto Serif CJK SC',serif" font-size="21.8" font-weight="bold" text-anchor="middle" fill="#000" stroke="#000" stroke-width="0.3">5</text>
<line x1="1035.65" y1="804.9" x2="1035.65" y2="808.7" stroke="#111" stroke-width="1.6"/>
<line x1="1071.4" y1="804.9" x2="1071.4" y2="812.1" stroke="#111" stroke-width="1.6"/>
<text transform="translate(1071.4 834.8) scale(1.000 1.030)" font-family="'Liberation Serif','Noto Serif CJK SC',serif" font-size="21.8" font-weight="bold" text-anchor="middle" fill="#000" stroke="#000" stroke-width="0.3">6</text>
<line x1="1107.15" y1="804.9" x2="1107.15" y2="808.7" stroke="#111" stroke-width="1.6"/>
<line x1="1142.9" y1="804.9" x2="1142.9" y2="812.1" stroke="#111" stroke-width="1.6"/>
<text transform="translate(1142.9 834.8) scale(1.000 1.030)" font-family="'Liberation Serif','Noto Serif CJK SC',serif" font-size="21.8" font-weight="bold" text-anchor="middle" fill="#000" stroke="#000" stroke-width="0.3">7</text>
<line x1="1178.65" y1="804.9" x2="1178.65" y2="808.7" stroke="#111" stroke-width="1.6"/>
<text transform="translate(850.53 862.7) scale(1.051 1.030)" font-family="'Liberation Serif','Noto Serif CJK SC',serif" font-size="23.3" font-weight="bold" fill="#000" stroke="#000" stroke-width="0.3">Time</text>
<text transform="translate(901.33 863.15) scale(1.199 1.030)" font-family="'Liberation Serif','Noto Serif CJK SC',serif" font-size="20.3" font-weight="bold" fill="#000" stroke="#000" stroke-width="0.3">（</text>
<text transform="translate(928.96 862.7) scale(1.009 1.030)" font-family="'Liberation Serif','Noto Serif CJK SC',serif" font-size="23.3" font-weight="bold" fill="#000" stroke="#000" stroke-width="0.3">day</text>
<text transform="translate(968.92 863.15) scale(1.297 1.030)" font-family="'Liberation Serif','Noto Serif CJK SC',serif" font-size="20.3" font-weight="bold" fill="#000" stroke="#000" stroke-width="0.3">）</text>
<g transform="translate(622.9 0) rotate(-90)">
<text transform="translate(-683.62 0) scale(1.043 1.120)" font-family="'Liberation Serif','Noto Serif CJK SC',serif" font-size="23.3" font-weight="bold" fill="#000" stroke="#000" stroke-width="0.3">Size</text>
<text transform="translate(-637.06 0.45) scale(1.182 1.030)" font-family="'Liberation Serif','Noto Serif CJK SC',serif" font-size="20.3" font-weight="bold" fill="#000" stroke="#000" stroke-width="0.3">（</text>
<text transform="translate(-610.97 0) scale(0.982 1.030)" font-family="'Liberation Serif','Noto Serif CJK SC',serif" font-size="23.3" font-weight="bold" fill="#000" stroke="#000" stroke-width="0.3">nm</text>
<text transform="translate(-577.04 0.45) scale(1.346 1.030)" font-family="'Liberation Serif','Noto Serif CJK SC',serif" font-size="20.3" font-weight="bold" fill="#000" stroke="#000" stroke-width="0.3">）</text>
</g>
<line x1="719.11" y1="637.78" x2="780.19" y2="621.12" stroke="#000" stroke-width="1.9"/>
<line x1="790.56" y1="621.29" x2="851.74" y2="640.11" stroke="#000" stroke-width="1.9"/>
<line x1="861.87" y1="639.59" x2="923.43" y2="613.41" stroke="#000" stroke-width="1.9"/>
<line x1="933.64" y1="612.6" x2="994.66" y2="627.7" stroke="#000" stroke-width="1.9"/>
<line x1="1005.3" y1="629.06" x2="1066" y2="629.74" stroke="#000" stroke-width="1.9"/>
<line x1="1076.61" y1="628.37" x2="1137.69" y2="611.63" stroke="#000" stroke-width="1.9"/>
<line x1="713.9" y1="599.9" x2="713.9" y2="677.2" stroke="#000" stroke-width="1.9"/>
<line x1="709.6" y1="599.9" x2="718.2" y2="599.9" stroke="#000" stroke-width="1.9"/>
<line x1="709.6" y1="677.2" x2="718.2" y2="677.2" stroke="#000" stroke-width="1.9"/>
<rect x="709.9" y="635.2" width="8" height="8" fill="#000"/>
<line x1="785.4" y1="572.8" x2="785.4" y2="666.3" stroke="#000" stroke-width="1.9"/>
<line x1="781.1" y1="572.8" x2="789.7" y2="572.8" stroke="#000" stroke-width="1.9"/>
<line x1="781.1" y1="666.3" x2="789.7" y2="666.3" stroke="#000" stroke-width="1.9"/>
<rect x="781.4" y="615.7" width="8" height="8" fill="#000"/>
<line x1="856.9" y1="619.2" x2="856.9" y2="664.2" stroke="#000" stroke-width="1.9"/>
<line x1="852.6" y1="619.2" x2="861.2" y2="619.2" stroke="#000" stroke-width="1.9"/>
<line x1="852.6" y1="664.2" x2="861.2" y2="664.2" stroke="#000" stroke-width="1.9"/>
<rect x="852.9" y="637.7" width="8" height="8" fill="#000"/>
<line x1="928.4" y1="589.6" x2="928.4" y2="632.3" stroke="#000" stroke-width="1.9"/>
<line x1="924.1" y1="589.6" x2="932.7" y2="589.6" stroke="#000" stroke-width="1.9"/>
<line x1="924.1" y1="632.3" x2="932.7" y2="632.3" stroke="#000" stroke-width="1.9"/>
<rect x="924.4" y="607.3" width="8" height="8" fill="#000"/>
<line x1="999.9" y1="599" x2="999.9" y2="659" stroke="#000" stroke-width="1.9"/>
<line x1="995.6" y1="599" x2="1004.2" y2="599" stroke="#000" stroke-width="1.9"/>
<line x1="995.6" y1="659" x2="1004.2" y2="659" stroke="#000" stroke-width="1.9"/>
<rect x="995.9" y="625" width="8" height="8" fill="#000"/>
<line x1="1071.4" y1="604.6" x2="1071.4" y2="654.5" stroke="#000" stroke-width="1.9"/>
<line x1="1067.1" y1="604.6" x2="1075.7" y2="604.6" stroke="#000" stroke-width="1.9"/>
<line x1="1067.1" y1="654.5" x2="1075.7" y2="654.5" stroke="#000" stroke-width="1.9"/>
<rect x="1067.4" y="625.8" width="8" height="8" fill="#000"/>
<line x1="1142.9" y1="595.7" x2="1142.9" y2="624" stroke="#000" stroke-width="1.9"/>
<line x1="1138.6" y1="595.7" x2="1147.2" y2="595.7" stroke="#000" stroke-width="1.9"/>
<line x1="1138.6" y1="624" x2="1147.2" y2="624" stroke="#000" stroke-width="1.9"/>
<rect x="1138.9" y="606.2" width="8" height="8" fill="#000"/>
</g>
<g id="panelE">
<line x1="1263.2" y1="444.4" x2="1263.2" y2="805" stroke="#000" stroke-width="1.6"/>
<line x1="1255.2" y1="797" x2="1754.8" y2="797" stroke="#000" stroke-width="1.6"/>
<text transform="translate(1249.4 803.4) scale(1.000 0.970)" font-family="'Liberation Serif','Noto Serif CJK SC',serif" font-size="20.6" font-weight="bold" text-anchor="end" fill="#000" stroke="#000" stroke-width="0.3">0</text>
<line x1="1259" y1="761.82" x2="1263.2" y2="761.82" stroke="#000" stroke-width="1.5"/>
<line x1="1255.2" y1="726.64" x2="1263.2" y2="726.64" stroke="#000" stroke-width="1.5"/>
<text transform="translate(1249.4 733.04) scale(1.000 0.970)" font-family="'Liberation Serif','Noto Serif CJK SC',serif" font-size="20.6" font-weight="bold" text-anchor="end" fill="#000" stroke="#000" stroke-width="0.3">20</text>
<line x1="1259" y1="691.46" x2="1263.2" y2="691.46" stroke="#000" stroke-width="1.5"/>
<line x1="1255.2" y1="656.28" x2="1263.2" y2="656.28" stroke="#000" stroke-width="1.5"/>
<text transform="translate(1249.4 662.68) scale(1.000 0.970)" font-family="'Liberation Serif','Noto Serif CJK SC',serif" font-size="20.6" font-weight="bold" text-anchor="end" fill="#000" stroke="#000" stroke-width="0.3">40</text>
<line x1="1259" y1="621.1" x2="1263.2" y2="621.1" stroke="#000" stroke-width="1.5"/>
<line x1="1255.2" y1="585.92" x2="1263.2" y2="585.92" stroke="#000" stroke-width="1.5"/>
<text transform="translate(1249.4 592.32) scale(1.000 0.970)" font-family="'Liberation Serif','Noto Serif CJK SC',serif" font-size="20.6" font-weight="bold" text-anchor="end" fill="#000" stroke="#000" stroke-width="0.3">60</text>
<line x1="1259" y1="550.74" x2="1263.2" y2="550.74" stroke="#000" stroke-width="1.5"/>
<line x1="1255.2" y1="515.56" x2="1263.2" y2="515.56" stroke="#000" stroke-width="1.5"/>
<text transform="translate(1249.4 521.96) scale(1.000 0.970)" font-family="'Liberation Serif','Noto Serif CJK SC',serif" font-size="20.6" font-weight="bold" text-anchor="end" fill="#000" stroke="#000" stroke-width="0.3">80</text>
<line x1="1259" y1="480.38" x2="1263.2" y2="480.38" stroke="#000" stroke-width="1.5"/>
<line x1="1255.2" y1="445.2" x2="1263.2" y2="445.2" stroke="#000" stroke-width="1.5"/>
<text transform="translate(1249.4 451.6) scale(1.000 0.970)" font-family="'Liberation Serif','Noto Serif CJK SC',serif" font-size="20.6" font-weight="bold" text-anchor="end" fill="#000" stroke="#000" stroke-width="0.3">100</text>
<text transform="translate(1263.2 826.4) scale(1.000 0.970)" font-family="'Liberation Serif','Noto Serif CJK SC',serif" font-size="20.6" font-weight="bold" text-anchor="middle" fill="#000" stroke="#000" stroke-width="0.3">0</text>
<line x1="1304.1" y1="797" x2="1304.1" y2="801.2" stroke="#000" stroke-width="1.5"/>
<line x1="1345" y1="797" x2="1345" y2="805" stroke="#000" stroke-width="1.5"/>
<text transform="translate(1345 826.4) scale(1.000 0.970)" font-family="'Liberation Serif','Noto Serif CJK SC',serif" font-size="20.6" font-weight="bold" text-anchor="middle" fill="#000" stroke="#000" stroke-width="0.3">5</text>
<line x1="1385.9" y1="797" x2="1385.9" y2="801.2" stroke="#000" stroke-width="1.5"/>
<line x1="1426.8" y1="797" x2="1426.8" y2="805" stroke="#000" stroke-width="1.5"/>
<text transform="translate(1426.8 826.4) scale(1.000 0.970)" font-family="'Liberation Serif','Noto Serif CJK SC',serif" font-size="20.6" font-weight="bold" text-anchor="middle" fill="#000" stroke="#000" stroke-width="0.3">10</text>
<line x1="1467.7" y1="797" x2="1467.7" y2="801.2" stroke="#000" stroke-width="1.5"/>
<line x1="1508.6" y1="797" x2="1508.6" y2="805" stroke="#000" stroke-width="1.5"/>
<text transform="translate(1508.6 826.4) scale(1.000 0.970)" font-family="'Liberation Serif','Noto Serif CJK SC',serif" font-size="20.6" font-weight="bold" text-anchor="middle" fill="#000" stroke="#000" stroke-width="0.3">15</text>
<line x1="1549.5" y1="797" x2="1549.5" y2="801.2" stroke="#000" stroke-width="1.5"/>
<line x1="1590.4" y1="797" x2="1590.4" y2="805" stroke="#000" stroke-width="1.5"/>
<text transform="translate(1590.4 826.4) scale(1.000 0.970)" font-family="'Liberation Serif','Noto Serif CJK SC',serif" font-size="20.6" font-weight="bold" text-anchor="middle" fill="#000" stroke="#000" stroke-width="0.3">20</text>
<line x1="1631.3" y1="797" x2="1631.3" y2="801.2" stroke="#000" stroke-width="1.5"/>
<line x1="1672.2" y1="797" x2="1672.2" y2="805" stroke="#000" stroke-width="1.5"/>
<text transform="translate(1672.2 826.4) scale(1.000 0.970)" font-family="'Liberation Serif','Noto Serif CJK SC',serif" font-size="20.6" font-weight="bold" text-anchor="middle" fill="#000" stroke="#000" stroke-width="0.3">25</text>
<line x1="1713.1" y1="797" x2="1713.1" y2="801.2" stroke="#000" stroke-width="1.5"/>
<line x1="1754" y1="797" x2="1754" y2="805" stroke="#000" stroke-width="1.5"/>
<text transform="translate(1754 826.4) scale(1.000 0.970)" font-family="'Liberation Serif','Noto Serif CJK SC',serif" font-size="20.6" font-weight="bold" text-anchor="middle" fill="#000" stroke="#000" stroke-width="0.3">30</text>
<text transform="translate(1447.34 849.3) scale(1.009 0.940)" font-family="'Liberation Serif','Noto Serif CJK SC',serif" font-size="24" font-weight="bold" fill="#000" stroke="#000" stroke-width="0.3">Time (days)</text>
<g transform="translate(1218.3 0) rotate(-90)">
<text transform="translate(-786.3 0) scale(1.017 0.950)" font-family="'Liberation Serif','Noto Serif CJK SC',serif" font-size="24" font-weight="bold" fill="#000" stroke="#000" stroke-width="0.3">Cumulative release of Gas6 (%)</text>
</g>
<path d="M1263.2 797C1265.79 778.97 1267.06 760.54 1270.98 742.9C1272.38 736.61 1276.31 731.04 1279.16 725.2C1284.49 714.24 1288.77 702.44 1295.52 692.5C1299.68 686.37 1306.73 682.46 1311.88 677C1323.09 665.1 1333 651.9 1344.6 640.4C1354.82 630.27 1367.01 622.12 1377.32 612.1C1383.37 606.22 1387.44 598.34 1393.68 592.7C1403.8 583.57 1414.62 574.52 1426.4 567.8C1436.43 562.08 1448.19 559.47 1459.12 555.4C1470 551.34 1480.63 546.34 1491.84 543.4C1510.63 538.47 1529.88 534.79 1549.1 531.8C1568.05 528.85 1587.22 526.84 1606.36 525.6C1625.39 524.37 1644.53 524.62 1663.62 524.4C1682.7 524.18 1701.79 524.33 1720.88 524.3" fill="none" stroke="#000" stroke-width="1.75" stroke-linejoin="round"/>
<rect x="1261.2" y="795" width="4" height="4" fill="#000"/>
<line x1="1270.98" y1="733" x2="1270.98" y2="755.1" stroke="#0000ff" stroke-width="1.8"/>
<line x1="1266.18" y1="733" x2="1275.78" y2="733" stroke="#0000ff" stroke-width="1.8"/>
<line x1="1266.18" y1="755.1" x2="1275.78" y2="755.1" stroke="#0000ff" stroke-width="1.8"/>
<rect x="1266.68" y="738.6" width="8.6" height="8.6" fill="#000"/>
<line x1="1279.16" y1="717.4" x2="1279.16" y2="733" stroke="#0000ff" stroke-width="1.8"/>
<line x1="1274.36" y1="717.4" x2="1283.96" y2="717.4" stroke="#0000ff" stroke-width="1.8"/>
<line x1="1274.36" y1="733" x2="1283.96" y2="733" stroke="#0000ff" stroke-width="1.8"/>
<rect x="1274.86" y="720.9" width="8.6" height="8.6" fill="#000"/>
<line x1="1295.52" y1="688.4" x2="1295.52" y2="696.4" stroke="#0000ff" stroke-width="1.8"/>
<line x1="1290.72" y1="688.4" x2="1300.32" y2="688.4" stroke="#0000ff" stroke-width="1.8"/>
<line x1="1290.72" y1="696.4" x2="1300.32" y2="696.4" stroke="#0000ff" stroke-width="1.8"/>
<rect x="1291.22" y="688.2" width="8.6" height="8.6" fill="#000"/>
<line x1="1311.88" y1="665.9" x2="1311.88" y2="688.1" stroke="#0000ff" stroke-width="1.8"/>
<line x1="1307.08" y1="665.9" x2="1316.68" y2="665.9" stroke="#0000ff" stroke-width="1.8"/>
<line x1="1307.08" y1="688.1" x2="1316.68" y2="688.1" stroke="#0000ff" stroke-width="1.8"/>
<rect x="1307.58" y="672.7" width="8.6" height="8.6" fill="#000"/>
<line x1="1344.6" y1="629.9" x2="1344.6" y2="650.9" stroke="#0000ff" stroke-width="1.8"/>
<line x1="1339.8" y1="629.9" x2="1349.4" y2="629.9" stroke="#0000ff" stroke-width="1.8"/>
<line x1="1339.8" y1="650.9" x2="1349.4" y2="650.9" stroke="#0000ff" stroke-width="1.8"/>
<rect x="1340.3" y="636.1" width="8.6" height="8.6" fill="#000"/>
<line x1="1377.32" y1="604.9" x2="1377.32" y2="619.9" stroke="#0000ff" stroke-width="1.8"/>
<line x1="1372.52" y1="604.9" x2="1382.12" y2="604.9" stroke="#0000ff" stroke-width="1.8"/>
<line x1="1372.52" y1="619.9" x2="1382.12" y2="619.9" stroke="#0000ff" stroke-width="1.8"/>
<rect x="1373.02" y="607.8" width="8.6" height="8.6" fill="#000"/>
<line x1="1393.68" y1="583.9" x2="1393.68" y2="601" stroke="#0000ff" stroke-width="1.8"/>
<line x1="1388.88" y1="583.9" x2="1398.48" y2="583.9" stroke="#0000ff" stroke-width="1.8"/>
<line x1="1388.88" y1="601" x2="1398.48" y2="601" stroke="#0000ff" stroke-width="1.8"/>
<rect x="1389.38" y="588.4" width="8.6" height="8.6" fill="#000"/>
<line x1="1426.4" y1="555" x2="1426.4" y2="580" stroke="#0000ff" stroke-width="1.8"/>
<line x1="1421.6" y1="555" x2="1431.2" y2="555" stroke="#0000ff" stroke-width="1.8"/>
<line x1="1421.6" y1="580" x2="1431.2" y2="580" stroke="#0000ff" stroke-width="1.8"/>
<rect x="1422.1" y="563.5" width="8.6" height="8.6" fill="#000"/>
<line x1="1491.84" y1="533.9" x2="1491.84" y2="548.9" stroke="#0000ff" stroke-width="1.8"/>
<line x1="1487.04" y1="533.9" x2="1496.64" y2="533.9" stroke="#0000ff" stroke-width="1.8"/>
<line x1="1487.04" y1="548.9" x2="1496.64" y2="548.9" stroke="#0000ff" stroke-width="1.8"/>
<rect x="1487.54" y="536.9" width="8.6" height="8.6" fill="#000"/>
<line x1="1606.36" y1="511.8" x2="1606.36" y2="536.1" stroke="#0000ff" stroke-width="1.8"/>
<line x1="1601.56" y1="511.8" x2="1611.16" y2="511.8" stroke="#0000ff" stroke-width="1.8"/>
<line x1="1601.56" y1="536.1" x2="1611.16" y2="536.1" stroke="#0000ff" stroke-width="1.8"/>
<rect x="1602.06" y="519.5" width="8.6" height="8.6" fill="#000"/>
<line x1="1720.88" y1="517.4" x2="1720.88" y2="530.1" stroke="#0000ff" stroke-width="1.8"/>
<line x1="1716.08" y1="517.4" x2="1725.68" y2="517.4" stroke="#0000ff" stroke-width="1.8"/>
<line x1="1716.08" y1="530.1" x2="1725.68" y2="530.1" stroke="#0000ff" stroke-width="1.8"/>
<rect x="1716.58" y="519.7" width="8.6" height="8.6" fill="#000"/>
</g>
</svg></body></html>
